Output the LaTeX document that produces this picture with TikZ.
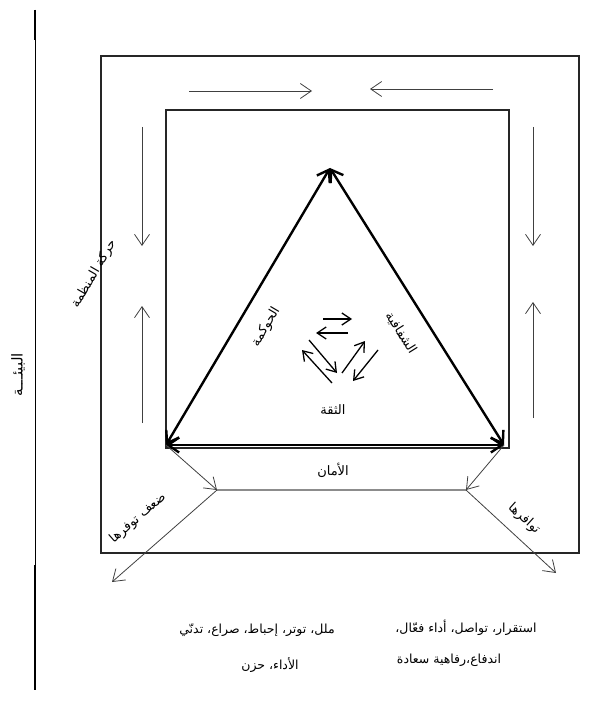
\documentclass[tikz,border=0pt]{standalone}
\usepackage{fontspec}
\usetikzlibrary{arrows.meta}
\TeXXeTstate=1
\newfontfamily\arabicfont[Script=Arabic]{DejaVu Sans}
\newcommand{\ar}[1]{\arabicfont\beginR #1\endR}
\begin{document}
\begin{tikzpicture}[x=1pt,y=-1pt,
  box/.style={line width=1.5pt, draw=black!85},
  thinarr/.style={line width=0.8pt, draw=black!75, -{Straight Barb[length=11pt,width=15pt,line width=0.8pt]}},
  midarr/.style={line width=1.3pt, -{Straight Barb[length=9pt,width=12pt,line width=1.3pt]}},
  tri/.style={line width=2.4pt, {Straight Barb[length=11pt,width=15pt,line width=2.4pt]}-{Straight Barb[length=11pt,width=15pt,line width=2.4pt]}},
  lab/.style={font=\fontsize{13}{15}\selectfont, inner sep=1pt},
  txt/.style={font=\fontsize{12.5}{15}\selectfont, inner sep=1pt}]
\useasboundingbox (0,0) rectangle (611,714);

% environment line
\coordinate (e1) at (35,10);
\coordinate (e2) at (35,690);
\draw[line width=0.8pt] (e1) -- (e2);
\draw[line width=1.6pt] (35,10) -- (35,40);
\draw[line width=1.6pt] (35,565) -- (35,690);
\node[lab, font=\fontsize{15}{17}\selectfont, rotate=90] (env) at (18,375) {\ar{البيئـــة}};

% rectangles
\draw[box] (101,56) rectangle (579,553);
\draw[box] (166,110) rectangle (509,448);

% corridor arrows
\coordinate (t1a) at (189,91); \coordinate (t1b) at (312,91);
\coordinate (t2a) at (493,89); \coordinate (t2b) at (370,89);
\draw[thinarr] (t1a) -- (t1b);
\draw[thinarr] (t2a) -- (t2b);
\coordinate (l1a) at (142,127); \coordinate (l1b) at (142,246);
\coordinate (l2a) at (142,423); \coordinate (l2b) at (142,306);
\draw[thinarr] (l1a) -- (l1b);
\draw[thinarr] (l2a) -- (l2b);
\coordinate (r1a) at (533,127); \coordinate (r1b) at (533,246);
\coordinate (r2a) at (533,418); \coordinate (r2b) at (533,302);
\draw[thinarr] (r1a) -- (r1b);
\draw[thinarr] (r2a) -- (r2b);
\node[lab, rotate=60] (move) at (94,274) {\ar{حركة المنظمة}};

% triangle
\coordinate (A) at (330,168);
\coordinate (BL) at (166,445);
\coordinate (BR) at (504,445);
\draw[tri] (BL) -- (A);
\draw[tri] (BR) -- (A);
\draw[tri, line width=1.8pt] (BL) -- (BR);
\node[lab, rotate=59.5] (gov) at (266,327) {\ar{الحوكمة}};
\node[lab, rotate=-58] (trans) at (401,333) {\ar{الشفافية}};
\node[lab] (trust) at (333,410) {\ar{الثقة}};

% centre arrows
\coordinate (c1a) at (323,319); \coordinate (c1b) at (352,319);
\coordinate (c2a) at (348,333); \coordinate (c2b) at (316,333);
\coordinate (c3a) at (309,340); \coordinate (c3b) at (337,373);
\coordinate (c4a) at (332,383); \coordinate (c4b) at (302,350);
\coordinate (c5a) at (342,373); \coordinate (c5b) at (365,341);
\coordinate (c6a) at (378,350); \coordinate (c6b) at (353,381);
\foreach \a/\b in {c1a/c1b,c2a/c2b,c3a/c3b,c4a/c4b,c5a/c5b,c6a/c6b}
  \draw[midarr] (\a) -- (\b);

% security line
\coordinate (S1) at (217,490);
\coordinate (S2) at (466,490);
\draw[thinarr] (BL) -- (S1);
\draw[thinarr] (BR) -- (S2);
\draw[line width=1.2pt, draw=black!45] (S1) -- (S2);
\node[lab] (safe) at (333,470) {\ar{الأمان}};

% outcomes
\coordinate (O1) at (112,582);
\coordinate (O2) at (556,573);
\draw[thinarr] (S1) -- (O1);
\draw[thinarr] (S2) -- (O2);
\node[lab, rotate=41] (weak) at (138,518) {\ar{ضعف توفرها}};
\node[lab, rotate=-42] (avail) at (524,519) {\ar{توافرها}};

\node[txt] (neg1) at (257,630) {\ar{ملل، توتر، إحباط، صراع، تدنّي}};
\node[txt] (neg2) at (270,665) {\ar{الأداء، حزن}};
\node[txt] (pos1) at (466,628) {\ar{استقرار، تواصل، أداء فعّال،}};
\node[txt] (pos2) at (449,660) {\ar{اندفاع،رفاهية سعادة}};
\end{tikzpicture}
\end{document}
